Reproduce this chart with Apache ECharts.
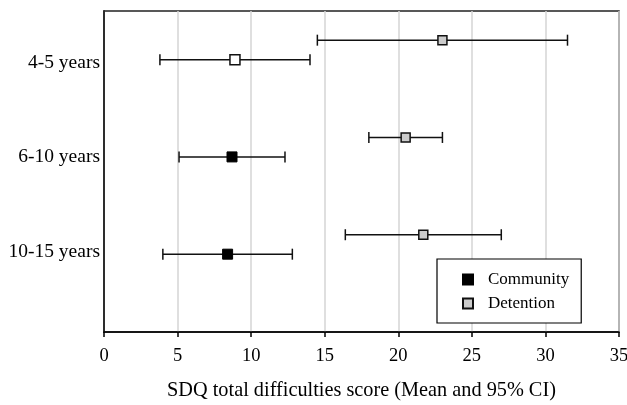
<!DOCTYPE html>
<html>
<head>
<meta charset="utf-8">
<script src="https://cdn.jsdelivr.net/npm/echarts@6/dist/echarts.min.js"></script>
<style>
  html, body { margin: 0; padding: 0; background: #fff; }
  #chart { width: 627px; height: 405px; }
</style>
</head>
<body>
<div id="chart"></div>
<script>
// age groups, top to bottom
var categories = ['4-5 years', '6-10 years', '10-15 years'];

// SDQ total difficulties score, mean and 95% CI
var communityMean = [8.9, 8.7, 8.4];
var communityLow = [3.8, 5.1, 4.0];
var communityHigh = [14.0, 12.3, 12.8];

var detentionMean = [23.0, 20.5, 21.7];
var detentionLow = [14.5, 18.0, 16.4];
var detentionHigh = [31.5, 23.0, 27.0];

var xTicks = [0, 5, 10, 15, 20, 25, 30, 35];

// detention rows sit a little above the community rows
var rowShift = 0.2;

var FONT = 'Liberation Serif';

function rows(mean, low, high, shift) {
  return mean.map(function (m, i) {
    return { mean: m, low: low[i], high: high[i], y: i + 1 - shift };
  });
}

var comm = rows(communityMean, communityLow, communityHigh, 0);
var det = rows(detentionMean, detentionLow, detentionHigh, rowShift);

function errorBar(params, api) {
  var y = api.value(2);
  var a = api.coord([api.value(0), y]);
  var b = api.coord([api.value(1), y]);
  var cap = 5.5;
  var style = { stroke: '#111', lineWidth: 1.5 };
  return {
    type: 'group',
    children: [
      { type: 'line', shape: { x1: a[0], y1: a[1], x2: b[0], y2: b[1] }, style: style },
      { type: 'line', shape: { x1: a[0], y1: a[1] - cap, x2: a[0], y2: a[1] + cap }, style: style },
      { type: 'line', shape: { x1: b[0], y1: b[1] - cap, x2: b[0], y2: b[1] + cap }, style: style }
    ]
  };
}

var chart = echarts.init(document.getElementById('chart'));

chart.setOption({
  animation: false,
  backgroundColor: '#fff',
  textStyle: { fontFamily: FONT, color: '#000' },
  grid: {
    left: 104, right: 8, top: 11, bottom: 73,
    outerBoundsMode: 'none',
    containLabel: false,
    show: true, borderColor: '#222', borderWidth: 1.5
  },
  legend: {
    left: 437, top: 259,
    orient: 'vertical',
    data: ['Community', 'Detention'],
    backgroundColor: '#fff',
    borderColor: '#000', borderWidth: 1.2,
    padding: [12, 12, 11, 25],
    itemWidth: 10, itemHeight: 10, itemGap: 7,
    selectedMode: false,
    textStyle: { fontFamily: FONT, fontSize: 17, color: '#000', padding: [0, 0, 0, 10] }
  },
  xAxis: {
    type: 'value',
    min: 0, max: 35, interval: 5,
    name: 'SDQ total difficulties score (Mean and 95% CI)',
    nameLocation: 'middle',
    nameGap: 49,
    nameTextStyle: { fontFamily: FONT, fontSize: 20.3, color: '#000' },
    axisLine: { show: true, onZero: false, lineStyle: { color: '#000', width: 1.5 } },
    axisTick: { show: true, inside: false, length: 5, lineStyle: { color: '#000', width: 1.5 } },
    axisLabel: {
      fontFamily: FONT, fontSize: 18.5, color: '#000', margin: 15,
      formatter: function (v) { return xTicks.indexOf(v) >= 0 ? String(v) : ''; }
    },
    splitLine: { show: true, lineStyle: { color: '#d4d4d4', width: 1.5 } }
  },
  yAxis: {
    type: 'value',
    inverse: true,
    min: 0.5, max: 3.8,
    axisLine: { show: true, onZero: false, lineStyle: { color: '#000', width: 1.5 } },
    axisTick: { show: false },
    splitLine: { show: false },
    axisLabel: {
      customValues: [1.03, 2, 2.98],
      fontFamily: FONT, fontSize: 19.5, color: '#000', margin: 4,
      formatter: function (v) { return categories[Math.round(v) - 1] || ''; }
    }
  },
  series: [
    {
      type: 'custom',
      name: 'ciCommunity',
      renderItem: errorBar,
      encode: { x: [0, 1], y: 2 },
      data: comm.map(function (d) { return [d.low, d.high, d.y]; }),
      z: 1
    },
    {
      type: 'custom',
      name: 'ciDetention',
      renderItem: errorBar,
      encode: { x: [0, 1], y: 2 },
      data: det.map(function (d) { return [d.low, d.high, d.y]; }),
      z: 1
    },
    {
      type: 'scatter',
      name: 'Community',
      symbol: 'rect',
      symbolSize: 10,
      itemStyle: { color: '#000', borderColor: '#000', borderWidth: 1, opacity: 1 },
      data: comm.map(function (d, i) {
        var item = { value: [d.mean, d.y] };
        // the 4-5 years community marker is drawn hollow in the original
        if (i === 0) item.itemStyle = { color: '#fff', borderColor: '#111', borderWidth: 1.5 };
        return item;
      }),
      z: 3
    },
    {
      type: 'scatter',
      name: 'Detention',
      symbol: 'rect',
      symbolSize: 9,
      itemStyle: { color: '#cccccc', borderColor: '#111', borderWidth: 1.5, opacity: 1 },
      data: det.map(function (d) { return [d.mean, d.y]; }),
      z: 3
    }
  ]
});
</script>
</body>
</html>
